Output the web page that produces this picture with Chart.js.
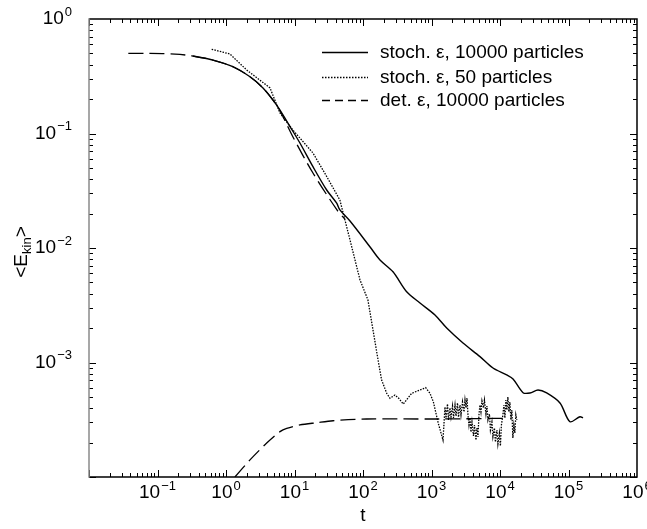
<!DOCTYPE html>
<html>
<head>
<meta charset="utf-8">
<script src="https://cdn.jsdelivr.net/npm/chart.js@4.4.1/dist/chart.umd.min.js"></script>
<style>
  html, body { margin: 0; padding: 0; background: #fff; }
  #chart { display: block; }
</style>
</head>
<body>
<canvas id="chart" width="647" height="529"></canvas>
<script>
// values: time t and <E_kin>

// stoch. eps, 10000 particles (solid)
const stochT = [0.33, 0.645, 1.26, 2.24, 3.47, 4.85, 6.14, 8.6, 12, 18.6, 29.5, 41.3, 46, 64.6, 126, 177, 274, 434, 679, 1125, 1667, 2884, 5100, 7900, 12500, 15500, 21700, 27400, 35900, 48000, 75100, 105000, 147000, 163000];
const stochE = [0.475, 0.438, 0.383, 0.313, 0.25, 0.196, 0.16, 0.115, 0.0826, 0.0513, 0.0321, 0.0246, 0.0215, 0.0172, 0.01026, 0.00785, 0.0062, 0.00415, 0.00331, 0.0026, 0.0020, 0.00148, 0.001125, 0.000895, 0.000778, 0.000718, 0.000545, 0.000542, 0.000575, 0.000542, 0.000443, 0.000304, 0.000336, 0.000328];

// stoch. eps, 50 particles (dotted)
const fewT = [0.618, 1.14, 2.0, 4.39, 6.14, 9.5, 18.6, 29.8, 46, 64.6, 90.4, 118, 140, 166, 187, 222, 248, 293, 332, 387, 514, 679, 823, 951, 1062, 1257,
  1472, 1574, 1629, 1712, 1771, 1862, 1926, 2027, 2096, 2204, 2279, 2397, 2479, 2607, 2696, 2836, 2981, 3083, 3188, 3297, 3409, 3525, 3646, 3770, 3899,
  4100, 4240, 4458, 4610, 4767, 4930, 5098, 5272, 5452, 5733, 5929, 6234, 6447, 6667, 7010, 7249, 7622, 7882, 8288, 8571, 9012, 9319, 9799, 10134,
  10479, 11019, 11395, 11783, 12185, 12600, 13030, 13474, 13933, 14408, 14899, 15407, 15932, 16475, 17036, 17617];
const fewE = [0.544, 0.495, 0.359, 0.25, 0.151, 0.107, 0.0676, 0.0417, 0.0262, 0.01175, 0.00526, 0.00352, 0.00192, 0.00105, 0.000703, 0.000538, 0.000487, 0.00052, 0.000487, 0.000434, 0.000538, 0.000575, 0.000603, 0.000538, 0.000455, 0.000294,
  0.00021, 0.000409, 0.000328, 0.000434, 0.000315, 0.000401, 0.000334, 0.000417, 0.000328, 0.000425, 0.000341, 0.000443, 0.000334, 0.000425, 0.000348, 0.000452, 0.00037, 0.00047, 0.000401, 0.00049, 0.000348, 0.000284, 0.000328, 0.000247, 0.000302,
  0.000228, 0.000284, 0.00021, 0.000268, 0.000224, 0.000348, 0.000425, 0.00037, 0.000461, 0.000401, 0.00047, 0.000355, 0.000417, 0.000315, 0.000355, 0.000257, 0.000302, 0.000224, 0.000268, 0.000202, 0.000257, 0.000194, 0.000242, 0.000187,
  0.000284, 0.000348, 0.000425, 0.000328, 0.00047, 0.000385, 0.0005, 0.00037, 0.000452, 0.000315, 0.000385, 0.000219, 0.000284, 0.000242, 0.000348, 0.000315];

// det. eps, 10000 particles (dashed), upper branch
const detT = [0.0375, 0.078, 0.18, 0.33, 0.645, 1.26, 2.24, 3.47, 4.85, 6.14, 9.5, 18.6, 41.7, 54.6];
const detE = [0.501, 0.50, 0.494, 0.475, 0.438, 0.383, 0.313, 0.25, 0.196, 0.158, 0.0932, 0.0452, 0.0215, 0.0178];

// det. eps, lower dashed branch
const detLowT = [1.35, 2.24, 3.93, 6.14, 7.7, 12, 21.1, 36.5, 113, 1191, 12500];
const detLowE = [1.0e-4, 1.41e-4, 1.98e-4, 2.49e-4, 2.66e-4, 2.85e-4, 2.98e-4, 3.10e-4, 3.21e-4, 3.21e-4, 3.26e-4];

const seriesNames = ['stoch. \u03b5, 10000 particles', 'stoch. \u03b5, 50 particles', 'det. \u03b5, 10000 particles'];
const xTickPowers = [-1, 0, 1, 2, 3, 4, 5, 6];
const yTickPowers = [0, -1, -2, -3];

const FONT = '"Liberation Sans", Arial, Helvetica, sans-serif';

function pairs(ts, es) {
  return ts.map((t, i) => ({ x: t, y: es[i] }));
}

// 10 with a superscript exponent
function drawPow(ctx, p, x, y, align) {
  const base = '10';
  const sup = p < 0 ? '\u2212' + Math.abs(p) : String(p);
  ctx.font = '19px ' + FONT;
  const wb = ctx.measureText(base).width;
  ctx.font = '13px ' + FONT;
  const ws = ctx.measureText(sup).width;
  const w = wb + ws + 1;
  let x0 = align === 'right' ? x - w : x - w / 2;
  ctx.textAlign = 'left';
  ctx.textBaseline = 'middle';
  ctx.font = '19px ' + FONT;
  ctx.fillText(base, x0, y);
  ctx.font = '13px ' + FONT;
  ctx.fillText(sup, x0 + wb + 1, y - 7);
}

const frameAndText = {
  id: 'frameAndText',
  afterDraw(chart) {
    const ctx = chart.ctx;
    const a = chart.chartArea;
    const xs = chart.scales.x, ys = chart.scales.y;
    ctx.save();
    ctx.fillStyle = '#000';
    ctx.strokeStyle = '#000';
    ctx.lineWidth = 1;

    // minor/major tick marks on all four sides, pointing inward
    ctx.beginPath();
    for (let k = -2; k < 6; k++) {
      for (let m = 1; m < 10; m++) {
        const px = Math.round(xs.getPixelForValue(m * Math.pow(10, k))) + 0.5;
        const len = m === 1 ? 7 : 4;
        ctx.moveTo(px, a.bottom); ctx.lineTo(px, a.bottom - len);
        ctx.moveTo(px, a.top); ctx.lineTo(px, a.top + len);
      }
    }
    for (let k = -4; k < 0; k++) {
      for (let m = 1; m < 10; m++) {
        const py = Math.round(ys.getPixelForValue(m * Math.pow(10, k))) + 0.5;
        const len = m === 1 ? 7 : 4;
        ctx.moveTo(a.left, py); ctx.lineTo(a.left + len, py);
        ctx.moveTo(a.right, py); ctx.lineTo(a.right - len, py);
      }
    }
    ctx.stroke();

    // frame
    ctx.lineWidth = 1.5;
    ctx.beginPath();
    ctx.moveTo(a.left, a.top); ctx.lineTo(a.right, a.top);
    ctx.lineTo(a.right, a.bottom); ctx.lineTo(a.left, a.bottom);
    ctx.stroke();
    ctx.strokeStyle = '#8a8a8a';
    ctx.beginPath();
    ctx.moveTo(a.left, a.top - 0.75); ctx.lineTo(a.left, a.bottom + 0.75);
    ctx.stroke();

    // tick labels
    xTickPowers.forEach(p => drawPow(ctx, p, xs.getPixelForValue(Math.pow(10, p)), a.bottom + 16, 'center'));
    yTickPowers.forEach(p => drawPow(ctx, p, a.left - 17, ys.getPixelForValue(Math.pow(10, p)), 'right'));

    // axis titles
    ctx.font = '19px ' + FONT;
    ctx.textAlign = 'center';
    ctx.textBaseline = 'middle';
    ctx.fillText('t', (a.left + a.right) / 2, 516);

    ctx.save();
    ctx.translate(22, 252);
    ctx.rotate(-Math.PI / 2);
    ctx.textAlign = 'left';
    ctx.font = '19px ' + FONT;
    const w1 = ctx.measureText('<E').width;
    ctx.font = '13px ' + FONT;
    const w2 = ctx.measureText('kin').width;
    ctx.font = '19px ' + FONT;
    const w3 = ctx.measureText('>').width;
    let x0 = -(w1 + w2 + w3) / 2;
    ctx.fillText('<E', x0, 0);
    ctx.font = '13px ' + FONT;
    ctx.fillText('kin', x0 + w1, 5);
    ctx.font = '19px ' + FONT;
    ctx.fillText('>', x0 + w1 + w2, 0);
    ctx.restore();

    // legend
    const rows = [52, 77, 100];
    const dashes = [[], [1.5, 1.5], [8, 5]];
    chart.data.datasets.slice(0, 3).forEach((ds, i) => {
      ctx.strokeStyle = '#000';
      ctx.lineWidth = ds.borderWidth;
      ctx.setLineDash(dashes[i]);
      ctx.beginPath();
      ctx.moveTo(322, rows[i] + 0.5);
      ctx.lineTo(368, rows[i] + 0.5);
      ctx.stroke();
      ctx.setLineDash([]);
      ctx.font = '19px ' + FONT;
      ctx.textAlign = 'left';
      ctx.textBaseline = 'middle';
      ctx.fillText(ds.label, 380, rows[i] + 1);
    });
    ctx.restore();
  }
};

new Chart(document.getElementById('chart'), {
  type: 'scatter',
  data: {
    datasets: [
      {
        label: seriesNames[0],
        data: pairs(stochT, stochE),
        showLine: true,
        borderColor: '#000',
        borderWidth: 1.4,
        pointRadius: 0,
        tension: 0.3
      },
      {
        label: seriesNames[1],
        data: pairs(fewT, fewE),
        showLine: true,
        borderColor: '#000',
        borderWidth: 1.3,
        borderDash: [1.5, 1.3],
        pointRadius: 0,
        tension: 0
      },
      {
        label: seriesNames[2],
        data: pairs(detT, detE),
        showLine: true,
        borderColor: '#000',
        borderWidth: 1.3,
        borderDash: [15, 6],
        pointRadius: 0,
        tension: 0.3
      },
      {
        label: seriesNames[2],
        data: pairs(detLowT, detLowE),
        showLine: true,
        borderColor: '#000',
        borderWidth: 1.3,
        borderDash: [15, 6],
        pointRadius: 0,
        tension: 0.3
      }
    ]
  },
  options: {
    responsive: false,
    animation: false,
    devicePixelRatio: 1,
    layout: { padding: { left: 89, right: 10, top: 19, bottom: 52 } },
    plugins: {
      legend: { display: false },
      tooltip: { enabled: false }
    },
    scales: {
      x: { type: 'logarithmic', min: 0.01, max: 1e6, display: false },
      y: { type: 'logarithmic', min: 1e-4, max: 1, display: false }
    }
  },
  plugins: [frameAndText]
});
</script>
</body>
</html>
